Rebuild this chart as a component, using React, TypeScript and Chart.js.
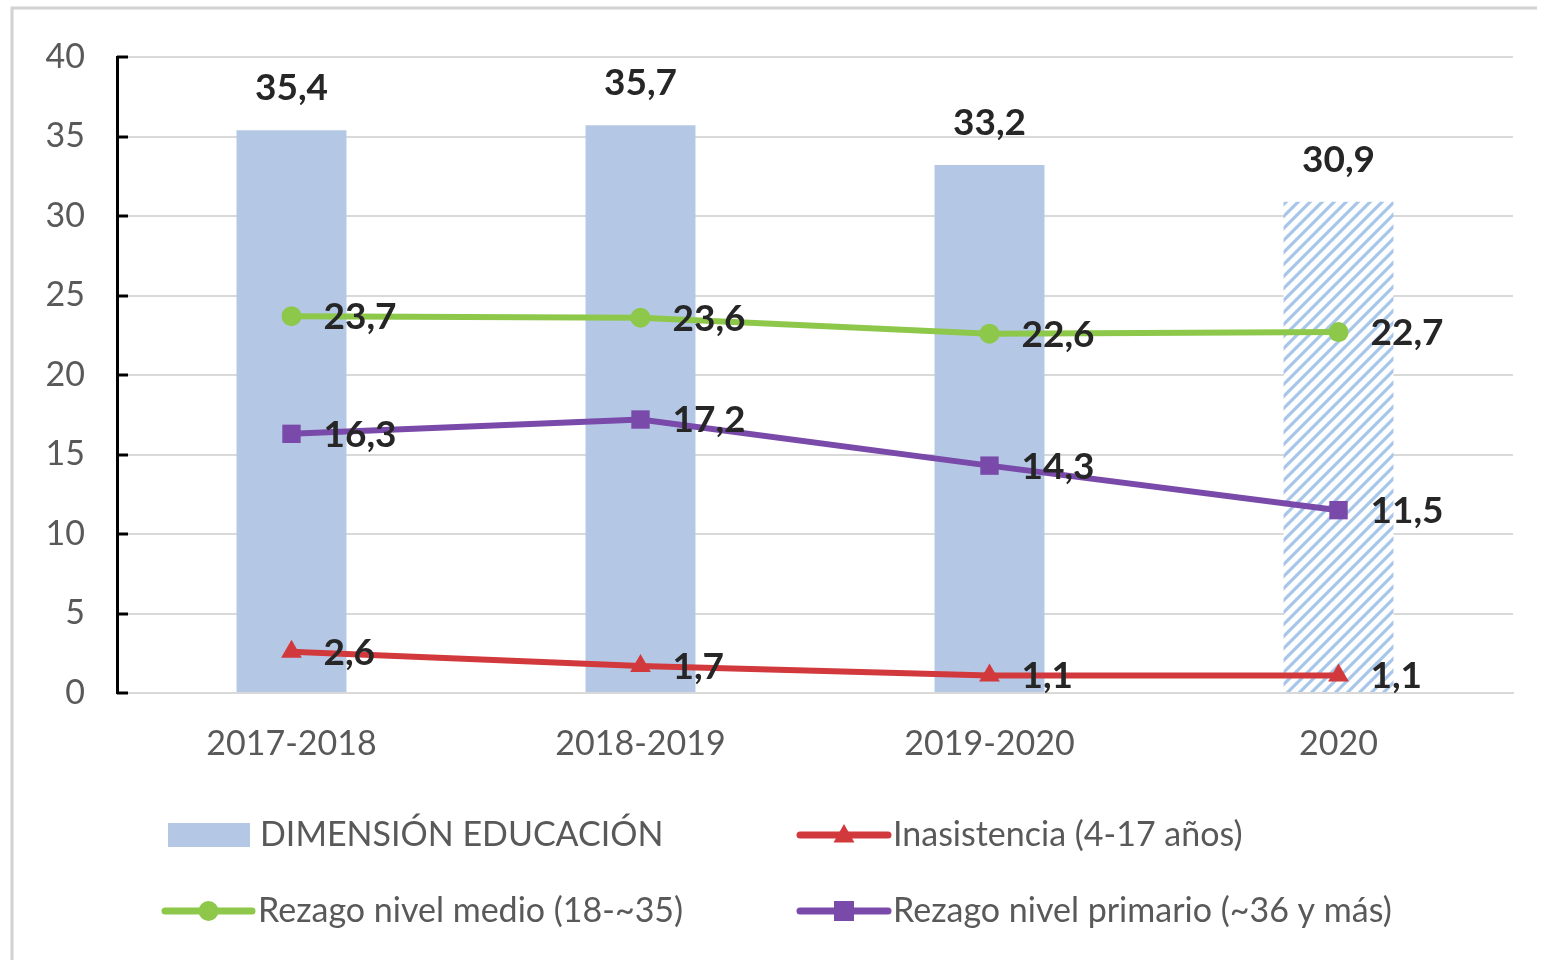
import React, { useEffect, useRef } from "react";
import { Chart, registerables } from "chart.js";
Chart.register(...registerables);

const categories = ["2017-2018", "2018-2019", "2019-2020", "2020"];
const educacion = [35.4, 35.7, 33.2, 30.9];
const inasistencia = [2.6, 1.7, 1.1, 1.1];
const rezagoMedio = [23.7, 23.6, 22.6, 22.7];
const rezagoPrimario = [16.3, 17.2, 14.3, 11.5];
const yMin = 0;
const yMax = 40;
const yStep = 5;

const legendItems = [
  { label: "DIMENSIÓN EDUCACIÓN", type: "bar", color: "#b4c8e6" },
  { label: "Inasistencia (4-17 años)", type: "triangle", color: "#d2393c" },
  { label: "Rezago nivel medio (18-~35)", type: "circle", color: "#8dc84a" },
  { label: "Rezago nivel primario (~36 y más)", type: "rect", color: "#7a4aaa" },
];

const FONT = "Lato, 'Open Sans', sans-serif";
const fmt = (v: number) => v.toFixed(1).replace(".", ",");

function makeHatch(): CanvasPattern | string {
  const c = document.createElement("canvas");
  c.width = 12;
  c.height = 12;
  const g = c.getContext("2d");
  if (!g) return "#b4c8e6";
  g.fillStyle = "#ffffff";
  g.fillRect(0, 0, 12, 12);
  g.strokeStyle = "#a8c6ea";
  g.lineWidth = 3.2;
  g.beginPath();
  g.moveTo(-3, 15);
  g.lineTo(15, -3);
  g.moveTo(-9, 9);
  g.lineTo(9, -9);
  g.moveTo(3, 21);
  g.lineTo(21, 3);
  g.stroke();
  const p = g.createPattern(c, "repeat");
  return p || "#b4c8e6";
}

function drawMarker(ctx: CanvasRenderingContext2D, type: string, x: number, y: number, color: string, r: number) {
  ctx.fillStyle = color;
  ctx.beginPath();
  if (type === "circle") {
    ctx.arc(x, y, r, 0, Math.PI * 2);
  } else if (type === "rect") {
    ctx.rect(x - r, y - r, 2 * r, 2 * r);
  } else if (type === "triangle") {
    ctx.moveTo(x, y - r * 1.1);
    ctx.lineTo(x + r * 1.05, y + r * 0.75);
    ctx.lineTo(x - r * 1.05, y + r * 0.75);
    ctx.closePath();
  }
  ctx.fill();
}

const decorPlugin = {
  id: "decor",
  beforeDraw(chart: any) {
    const ctx = chart.ctx as CanvasRenderingContext2D;
    ctx.save();
    ctx.fillStyle = "#ffffff";
    ctx.fillRect(0, 0, chart.width, chart.height);
    ctx.strokeStyle = "#d2d2d2";
    ctx.lineWidth = 3;
    ctx.beginPath();
    ctx.moveTo(12, 960);
    ctx.lineTo(12, 8);
    ctx.lineTo(1537, 8);
    ctx.stroke();
    ctx.restore();
  },
  afterDatasetsDraw(chart: any) {
    const ctx = chart.ctx as CanvasRenderingContext2D;
    const yScale = chart.scales.y;
    const area = chart.chartArea;
    ctx.save();
    ctx.strokeStyle = "#000000";
    ctx.lineWidth = 3;
    for (let v = yMin; v <= yMax; v += yStep) {
      const y = Math.round(yScale.getPixelForValue(v));
      ctx.beginPath();
      ctx.moveTo(area.left, y);
      ctx.lineTo(area.left + 11, y);
      ctx.stroke();
    }
    ctx.fillStyle = "#262626";
    ctx.font = `bold 37px ${FONT}`;
    chart.data.datasets.forEach((ds: any, i: number) => {
      const meta = chart.getDatasetMeta(i);
      meta.data.forEach((el: any, j: number) => {
        const v = ds.data[j] as number;
        if (ds.type === "bar") {
          ctx.textAlign = "center";
          ctx.textBaseline = "middle";
          ctx.fillText(fmt(v), el.x, el.y - 42);
        } else {
          ctx.textAlign = "left";
          ctx.textBaseline = "middle";
          ctx.fillText(fmt(v), el.x + 32, el.y + 1);
        }
      });
    });
    ctx.restore();
  },
  afterDraw(chart: any) {
    const ctx = chart.ctx as CanvasRenderingContext2D;
    ctx.save();
    ctx.font = `34px ${FONT}`;
    ctx.textBaseline = "middle";
    ctx.textAlign = "left";
    const pos = [
      { sx: 168, ex: 250, tx: 260, y: 835 },
      { sx: 800, ex: 888, tx: 893, y: 835 },
      { sx: 165, ex: 252, tx: 258, y: 911 },
      { sx: 800, ex: 888, tx: 893, y: 911 },
    ];
    legendItems.forEach((it, i) => {
      const p = pos[i];
      if (it.type === "bar") {
        ctx.fillStyle = it.color;
        ctx.fillRect(p.sx, p.y - 12, p.ex - p.sx, 24);
      } else {
        ctx.strokeStyle = it.color;
        ctx.lineWidth = 7;
        ctx.lineCap = "round";
        ctx.beginPath();
        ctx.moveTo(p.sx, p.y);
        ctx.lineTo(p.ex, p.y);
        ctx.stroke();
        drawMarker(ctx, it.type, (p.sx + p.ex) / 2, p.y, it.color, 10);
      }
      ctx.fillStyle = "#595959";
      ctx.fillText(it.label, p.tx, p.y);
    });
    ctx.restore();
  },
};

export default function App() {
  const ref = useRef<HTMLCanvasElement | null>(null);
  useEffect(() => {
    if (!ref.current) return;
    const hatch = makeHatch();
    const barColors = educacion.map((_, i) => (i === educacion.length - 1 ? hatch : "#b4c8e6"));
    const chart = new Chart(ref.current, {
      type: "bar",
      data: {
        labels: categories,
        datasets: [
          {
            type: "line",
            label: "Rezago nivel medio (18-~35)",
            data: rezagoMedio,
            borderColor: "#8dc84a",
            backgroundColor: "#8dc84a",
            borderWidth: 6,
            pointStyle: "circle",
            pointRadius: 10,
            pointBorderWidth: 0,
            order: 1,
          } as any,
          {
            type: "line",
            label: "Rezago nivel primario (~36 y más)",
            data: rezagoPrimario,
            borderColor: "#7a4aaa",
            backgroundColor: "#7a4aaa",
            borderWidth: 6,
            pointStyle: "rect",
            pointRadius: 13,
            pointBorderWidth: 0,
            order: 2,
          } as any,
          {
            type: "line",
            label: "Inasistencia (4-17 años)",
            data: inasistencia,
            borderColor: "#d2393c",
            backgroundColor: "#d2393c",
            borderWidth: 6,
            pointStyle: "triangle",
            pointRadius: 12,
            pointBorderWidth: 0,
            order: 3,
          } as any,
          {
            type: "bar",
            label: "DIMENSIÓN EDUCACIÓN",
            data: educacion,
            backgroundColor: barColors,
            borderWidth: 0,
            categoryPercentage: 1,
            barPercentage: 0.315,
            order: 10,
          } as any,
        ],
      },
      options: {
        responsive: false,
        animation: false,
        layout: { padding: { left: 0, top: 57, right: 32, bottom: 190 } },
        plugins: { legend: { display: false }, tooltip: { enabled: false } },
        scales: {
          x: {
            grid: { display: false, drawTicks: false },
            border: { display: true, color: "#d9d9d9", width: 2 },
            ticks: { color: "#595959", font: { size: 34, family: FONT }, padding: 31 },
            afterFit: (s: any) => {
              s.height = 80;
            },
          },
          y: {
            min: yMin,
            max: yMax,
            ticks: { stepSize: yStep, color: "#595959", font: { size: 34, family: FONT }, padding: 32 },
            grid: { color: "#d9d9d9", lineWidth: 2, drawTicks: false },
            border: { display: true, color: "#000000", width: 3 },
            afterFit: (s: any) => {
              s.width = 117;
            },
          },
        },
      },
      plugins: [decorPlugin],
    });
    return () => chart.destroy();
  }, []);
  return (
    <div style={{ position: "fixed", left: 0, top: 0, width: 1545, height: 963, background: "#fff" }}>
      <canvas ref={ref} width={1545} height={963} style={{ display: "block" }} />
    </div>
  );
}
